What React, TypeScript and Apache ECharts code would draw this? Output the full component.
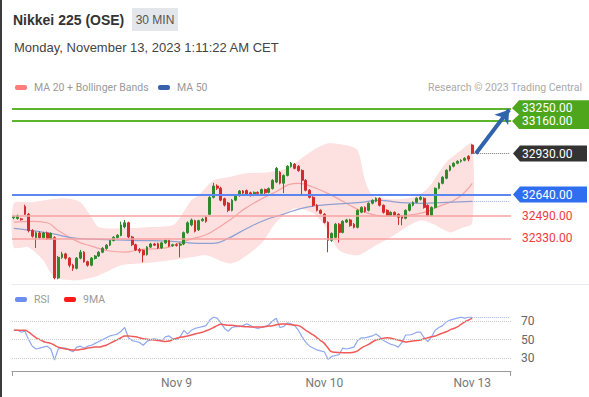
import React, { useEffect, useRef } from "react";
import * as echarts from "echarts";

// ---------- DATA ----------
// candles: [open, close, low, high]
const candles: number[][] = [
  [32475,32482,32465,32490],[32470,32490,32462,32498],[32468,32462,32455,32475],[32555,32500,32495,32568],[32500,32385,32372,32510],
  [32385,32345,32335,32395],[32335,32370,32262,32378],[32368,32335,32325,32380],[32335,32368,32328,32375],[32368,32325,32318,32378],
  [32325,32365,32320,32372],[32335,32050,32040,32345],[32050,32196,32040,32205],[32195,32220,32185,32235],[32220,32190,32180,32228],
  [32190,32140,32125,32198],[32140,32118,32100,32150],[32118,32190,32110,32198],[32190,32232,32182,32248],[32232,32165,32158,32240],
  [32165,32140,32130,32172],[32140,32190,32132,32198],[32188,32205,32180,32212],[32205,32232,32198,32240],[32232,32260,32225,32268],
  [32258,32282,32250,32290],[32282,32315,32275,32322],[32315,32338,32308,32345],[32336,32352,32328,32360],[32350,32425,32345,32448],
  [32410,32440,32400,32460],[32440,32340,32330,32448],[32340,32285,32275,32348],[32285,32248,32240,32292],[32250,32240,32225,32262],
  [32245,32212,32160,32252],[32215,32268,32208,32275],[32268,32290,32262,32298],[32290,32282,32275,32298],[32292,32262,32255,32300],
  [32262,32298,32255,32305],[32298,32315,32290,32322],[32315,32275,32268,32320],[32278,32285,32270,32292],[32285,32280,32272,32295],
  [32282,32290,32196,32300],[32290,32370,32282,32378],[32370,32440,32362,32450],[32425,32460,32415,32470],[32455,32380,32372,32462],
  [32390,32455,32382,32462],[32455,32465,32448,32475],[32478,32450,32440,32490],[32500,32620,32495,32628],[32620,32700,32612,32722],
  [32700,32685,32672,32712],[32685,32600,32592,32695],[32610,32565,32555,32618],[32580,32528,32515,32588],[32528,32600,32520,32608],
  [32600,32632,32592,32640],[32632,32665,32625,32672],[32665,32650,32642,32672],[32668,32640,32632,32675],[32652,32634,32625,32660],
  [32634,32655,32628,32662],[32655,32648,32640,32662],[32648,32675,32640,32682],[32675,32652,32645,32682],[32655,32682,32648,32690],
  [32682,32740,32675,32748],[32728,32825,32720,32835],[32797,32720,32712,32805],[32720,32775,32650,32782],[32775,32840,32768,32848],
  [32838,32862,32830,32870],[32855,32825,32818,32862],[32840,32810,32800,32848],[32810,32740,32634,32818],[32740,32670,32662,32748],
  [32670,32620,32612,32678],[32620,32564,32555,32628],[32564,32528,32520,32572],[32528,32507,32500,32535],[32500,32443,32435,32508],
  [32443,32316,32231,32450],[32316,32365,32305,32372],[32337,32430,32328,32438],[32430,32372,32300,32438],[32372,32450,32365,32458],
  [32445,32460,32438,32468],[32460,32420,32412,32468],[32430,32408,32400,32438],[32408,32528,32400,32535],[32515,32549,32508,32556],
  [32549,32521,32512,32556],[32528,32578,32520,32585],[32578,32599,32570,32606],[32592,32613,32585,32620],[32613,32564,32555,32620],
  [32564,32514,32505,32570],[32528,32493,32485,32535],[32493,32514,32486,32520],[32514,32493,32486,32520],[32500,32479,32425,32507],
  [32486,32472,32422,32492],[32472,32528,32465,32535],[32528,32570,32520,32578],[32564,32585,32556,32592],[32585,32613,32578,32620],
  [32606,32620,32598,32630],[32613,32549,32540,32620],[32564,32493,32485,32570],[32493,32549,32486,32556],[32549,32684,32542,32690],
  [32684,32719,32676,32726],[32719,32762,32712,32770],[32755,32811,32748,32818],[32811,32840,32804,32848],[32840,32861,32832,32868],
  [32861,32875,32854,32882],[32875,32882,32866,32890],[32882,32896,32875,32904],[32910,32890,32875,32918],[32990,32930,32925,32995],
];

// [candle index, value]
const ma20: number[][] = [
  [0,32445],[5,32450],[9,32440],[12,32385],[17,32310],[21,32275],[25,32245],[30,32232],[34,32250],[41,32262],
  [45,32300],[48,32325],[52,32355],[55,32400],[59,32470],[63,32549],[70,32648],[77,32719],[81,32691],[86,32634],
  [92,32549],[95,32515],[100,32486],[106,32493],[111,32514],[115,32556],[120,32613],[124,32719],
];
const ma50: number[][] = [
  [0,32400],[5,32385],[10,32365],[17,32330],[23,32323],[32,32316],[43,32309],[50,32295],[54,32295],[58,32330],
  [63,32400],[68,32460],[72,32493],[79,32549],[86,32570],[94,32585],[99,32599],[104,32585],[110,32578],[117,32585],[124,32592],
];
const bbUpper: number[][] = [
  [0,32578],[5,32585],[10,32606],[14,32613],[18,32585],[21,32479],[23,32408],[30,32401],[36,32408],[43,32422],
  [45,32479],[48,32599],[50,32634],[54,32740],[58,32762],[63,32790],[69,32797],[74,32825],[78,32900],[81,32953],
  [85,33002],[90,32988],[93,32953],[95,32740],[97,32634],[102,32606],[108,32620],[112,32684],[117,32868],[121,32953],[124,33002],
];
const bbLower: number[][] = [
  [0,32266],[4,32266],[8,32174],[11,32054],[17,32033],[23,32068],[29,32139],[35,32153],[42,32174],[48,32196],
  [52,32210],[58,32153],[61,32174],[67,32295],[71,32443],[76,32542],[81,32507],[84,32422],[88,32245],[93,32210],
  [97,32266],[102,32337],[107,32422],[110,32457],[113,32436],[118,32372],[121,32401],[124,32436],
];

const rsi: number[] = [
  60,60,58,59,50,43,40,41,42,43, 40,28,40,41,41,39,37,42,43,41,
  43,44,46,48,50,52,54,55,56,59, 63,52,49,48,47,44,48,50,51,50,
  49,53,54,51,50,53,60,56,60,62, 63,64,65,71,74,73,68,62,59,63,
  64,64,65,67,65,63,62,63,64,66, 70,73,63,64,68,67,65,60,53,47,
  43,41,39,38,37,29,32,33,34,41, 40,41,42,49,52,52,53,54,56,53,
  49,47,45,44,42,47,55,55,56,58, 58,52,48,53,60,63,65,69,71,72,
  73,74,73,74,74,
];
const rsiMa: number[] = [
  60,60,60,60,58,55,52,50,48,47, 46,44,42,41,40,39.5,39,39,39.5,40,
  41,41.5,42,42,43,44,46,48,50,52, 54,54,53.5,53,52,51,50.5,50,49.5,49,
  48.5,48,48.5,50,51.5,52.5,53,54,55,56, 57,58,59.5,61,63,65,66.5,66,65.5,65.5,
  65,64.5,64,63.8,63.6,63.6,63.6,63.6,64,64.5, 65,66,66.5,66.8,66.5,66,65.5,65,63,60,
  57.5,55,52,49,46,41,37,36.5,36.2,36, 36,36,36.5,38,41,43,45,47.5,49.6,50.5,
  51.5,52,51.5,50.5,49.6,48.5,47.5,48,48.5,49, 49.6,51,52,53,54,55.5,57,58.5,60.5,62,
  63.6,66.5,69,71,73,
];

const dayTicks: string[] = ["Nov 9", "Nov 10", "Nov 13"];
const dayTickIdx: number[] = [44, 84, 124];
const targetLevels: number[] = [33250, 33160];
const lastPrice = 32930;
const pivotLevel = 32640;
const supportLevels: number[] = [32490, 32330];
const arrowTarget = 33240;
const rsiLevels: number[] = [30, 50, 70];
const SLOTS = 135;

const FONT = 'Roboto, "Liberation Sans", Arial, sans-serif';
const HFONT = '"Liberation Sans", Arial, sans-serif';

export default function App() {
  const ref = useRef<HTMLDivElement>(null);
  useEffect(() => {
    const el = ref.current!;
    const chart = echarts.init(el, null, { renderer: "svg" });
    const categories = Array.from({ length: SLOTS }, (_, i) => String(i));
    const lastIdx = candles.length - 1;
    const ma50Last = ma50[ma50.length - 1][1];
    const rsiLast = rsi[rsi.length - 1];

    const option: any = {
      animation: false,
      textStyle: { fontFamily: FONT },
      grid: [
        { left: 12, top: 92, width: 499, height: 193 },
        { left: 12, top: 311, width: 499, height: 60 },
      ],
      xAxis: [
        { type: "category", gridIndex: 0, data: categories, boundaryGap: true, show: false },
        {
          type: "category", gridIndex: 1, data: categories, boundaryGap: true,
          axisLine: { show: true, lineStyle: { color: "#9a9a9a", width: 1 } },
          axisTick: { show: false },
          splitLine: { show: false },
          axisLabel: {
            interval: (index: number) => dayTickIdx.includes(index),
            formatter: (_v: string, index: number) => {
              const k = dayTickIdx.indexOf(index);
              return k >= 0 ? dayTicks[k] : "";
            },
            color: "#777", fontSize: 12, margin: 6, fontFamily: FONT,
          },
        },
      ],
      yAxis: [
        { type: "value", gridIndex: 0, min: 32000, max: 33365, show: false, splitLine: { show: false } },
        { type: "value", gridIndex: 1, min: 16.4, max: 80.7, show: false, splitLine: { show: false } },
      ],
      series: [
        {
          type: "custom", name: "bands", xAxisIndex: 0, yAxisIndex: 0, silent: true, z: 1,
          data: [[0, 32500]],
          renderItem: (_params: any, api: any) => {
            const up = bbUpper.map((p) => api.coord(p));
            const lo = bbLower.slice().reverse().map((p) => api.coord(p));
            return {
              type: "polygon",
              shape: { points: up.concat(lo), smooth: 0.25 },
              style: { fill: "#fde0e0" },
            };
          },
        },
        {
          type: "line", name: "MA 20 + Bollinger Bands", xAxisIndex: 0, yAxisIndex: 0, z: 2,
          data: ma20, smooth: true, showSymbol: false, silent: true,
          lineStyle: { color: "#f4a4a4", width: 1.2 },
        },
        {
          type: "line", name: "MA 50", xAxisIndex: 0, yAxisIndex: 0, z: 2,
          data: ma50, smooth: true, showSymbol: false, silent: true,
          lineStyle: { color: "#8fa0d2", width: 1.2 },
        },
        {
          type: "candlestick", name: "Nikkei 225", xAxisIndex: 0, yAxisIndex: 0, z: 3,
          data: candles, barWidth: "62%", silent: true,
          itemStyle: { color: "#2f8a2c", color0: "#d22d2d", borderColor: "#2f8a2c", borderColor0: "#d22d2d", borderWidth: 1 },
          markLine: {
            silent: true, symbol: ["none", "none"], label: { show: false }, animation: false,
            data: [
              { yAxis: targetLevels[0], lineStyle: { color: "#5db52c", width: 2, type: "solid" } },
              { yAxis: targetLevels[1], lineStyle: { color: "#5db52c", width: 2, type: "solid" } },
              { yAxis: pivotLevel, lineStyle: { color: "#5e86f0", width: 2, type: "solid" } },
              { yAxis: supportLevels[0], lineStyle: { color: "#f7a3a3", width: 1.5, type: "solid" } },
              { yAxis: supportLevels[1], lineStyle: { color: "#f7a3a3", width: 1.5, type: "solid" } },
              [
                { coord: [lastIdx, lastPrice], lineStyle: { color: "#777", width: 1, type: "dotted" } },
                { coord: [SLOTS - 1, lastPrice] },
              ],
              [
                { coord: [lastIdx, ma50Last], lineStyle: { color: "#9db0e6", width: 1, type: "dotted" } },
                { coord: [SLOTS - 1, ma50Last] },
              ],
              [
                { coord: [lastIdx + 1, lastPrice], symbol: "none", lineStyle: { color: "#2f63ad", width: 4, type: "solid" } },
                { coord: [SLOTS - 1, arrowTarget], symbol: "arrow", symbolSize: 13 },
              ],
            ],
          },
        },
        {
          type: "line", name: "RSI", xAxisIndex: 1, yAxisIndex: 1, z: 3,
          data: rsi, showSymbol: false, silent: true,
          lineStyle: { color: "#8fa9f0", width: 1.2 },
          markLine: {
            silent: true, symbol: ["none", "none"], animation: false,
            label: { show: true, position: "end", distance: 10, color: "#666", fontSize: 12, fontFamily: FONT, formatter: (p: any) => String(p.value) },
            lineStyle: { color: "#cfcfcf", width: 1, type: "dotted" },
            data: [
              ...rsiLevels.map((v) => ({ yAxis: v })),
              [
                { coord: [lastIdx, rsiLast], label: { show: false }, lineStyle: { color: "#a9bcf0", width: 1, type: "dotted" } },
                { coord: [SLOTS - 1, rsiLast] },
              ],
            ],
          },
        },
        {
          type: "line", name: "9MA", xAxisIndex: 1, yAxisIndex: 1, z: 4,
          data: rsiMa, smooth: true, showSymbol: false, silent: true,
          lineStyle: { color: "#f25a5a", width: 1.5 },
        },
      ],
    };
    chart.setOption(option);

    const py = (v: number) => chart.convertToPixel({ yAxisIndex: 0 }, v) as number;
    const txt = (text: string, x: number, y: number, o: any = {}) => ({
      type: "text", x, y, silent: true,
      style: { text, fill: o.fill || "#333", fontSize: o.size || 12, fontFamily: o.family || FONT, fontWeight: o.weight || "normal", align: o.align || "left", verticalAlign: "middle" },
    });

    const yA = py(targetLevels[0]);
    const yB = py(targetLevels[1]);
    const yL = py(lastPrice);
    const yP = py(pivotLevel);
    const yS1 = py(supportLevels[0]);
    const yS2 = py(supportLevels[1]);

    const graphic: any[] = [
      { type: "rect", shape: { x: 0, y: 0, width: 2, height: 397 }, style: { fill: "#3c3c3c" }, silent: true },
      txt("Nikkei 225 (OSE)", 13, 20, { size: 14, weight: "bold", family: HFONT, fill: "#333" }),
      { type: "rect", shape: { x: 132, y: 8, width: 46, height: 23 }, style: { fill: "#e3e6ea" }, silent: true },
      txt("30 MIN", 155, 20, { size: 12, align: "center", family: HFONT, fill: "#555" }),
      txt("Monday, November 13, 2023 1:11:22 AM CET", 14, 47, { size: 13, family: HFONT, fill: "#444" }),
      { type: "rect", shape: { x: 15, y: 85, width: 12, height: 5, r: 2 }, style: { fill: "#ff7c7c" }, silent: true },
      txt("MA 20 + Bollinger Bands", 34, 87.5, { size: 10.5, fill: "#9a9a9a" }),
      { type: "rect", shape: { x: 158, y: 85, width: 12, height: 5, r: 2 }, style: { fill: "#3a60ad" }, silent: true },
      txt("MA 50", 177, 87.5, { size: 10.5, fill: "#9a9a9a" }),
      txt("Research © 2023 Trading Central", 582, 87.5, { size: 10.5, fill: "#aaaaaa", align: "right" }),
      { type: "line", shape: { x1: 12, y1: 284.5, x2: 589, y2: 284.5 }, style: { stroke: "#e6eaee", lineWidth: 1 }, silent: true },
      { type: "rect", shape: { x: 15, y: 297, width: 12, height: 5, r: 2 }, style: { fill: "#6c8ef0" }, silent: true },
      txt("RSI", 34, 299.5, { size: 10.5, fill: "#9a9a9a" }),
      { type: "rect", shape: { x: 64, y: 297, width: 12, height: 5, r: 2 }, style: { fill: "#ff1a1a" }, silent: true },
      txt("9MA", 83, 299.5, { size: 10.5, fill: "#9a9a9a" }),
      { type: "line", shape: { x1: 12.5, y1: 371, x2: 12.5, y2: 376 }, style: { stroke: "#9a9a9a", lineWidth: 1 }, silent: true },
      { type: "line", shape: { x1: 510.5, y1: 371, x2: 510.5, y2: 376 }, style: { stroke: "#9a9a9a", lineWidth: 1 }, silent: true },
      // target box (two levels)
      {
        type: "polygon", silent: true,
        shape: { points: [[519, yA - 8], [589, yA - 8], [589, yB + 8], [519, yB + 8], [512, yB], [519, (yA + yB) / 2], [512, yA]] },
        style: { fill: "#4ea61c" },
      },
      txt(targetLevels[0].toFixed(2), 522, yA, { fill: "#fff", size: 12 }),
      txt(targetLevels[1].toFixed(2), 522, yB, { fill: "#fff", size: 12 }),
      {
        type: "polygon", silent: true,
        shape: { points: [[520, yL - 8], [587, yL - 8], [587, yL + 8], [520, yL + 8], [513, yL]] },
        style: { fill: "#333333" },
      },
      txt(lastPrice.toFixed(2), 522, yL, { fill: "#fff", size: 12 }),
      {
        type: "polygon", silent: true,
        shape: { points: [[520, yP - 8], [587, yP - 8], [587, yP + 8], [520, yP + 8], [513, yP]] },
        style: { fill: "#2f6ef0" },
      },
      txt(pivotLevel.toFixed(2), 522, yP, { fill: "#fff", size: 12 }),
      txt(supportLevels[0].toFixed(2), 522, yS1, { fill: "#f03b3b", size: 12 }),
      txt(supportLevels[1].toFixed(2), 522, yS2, { fill: "#f03b3b", size: 12 }),
    ];
    chart.setOption({ graphic });

    return () => chart.dispose();
  }, []);
  return <div ref={ref} style={{ position: "fixed", left: 0, top: 0, width: 589, height: 397, background: "#fff" }} />;
}
